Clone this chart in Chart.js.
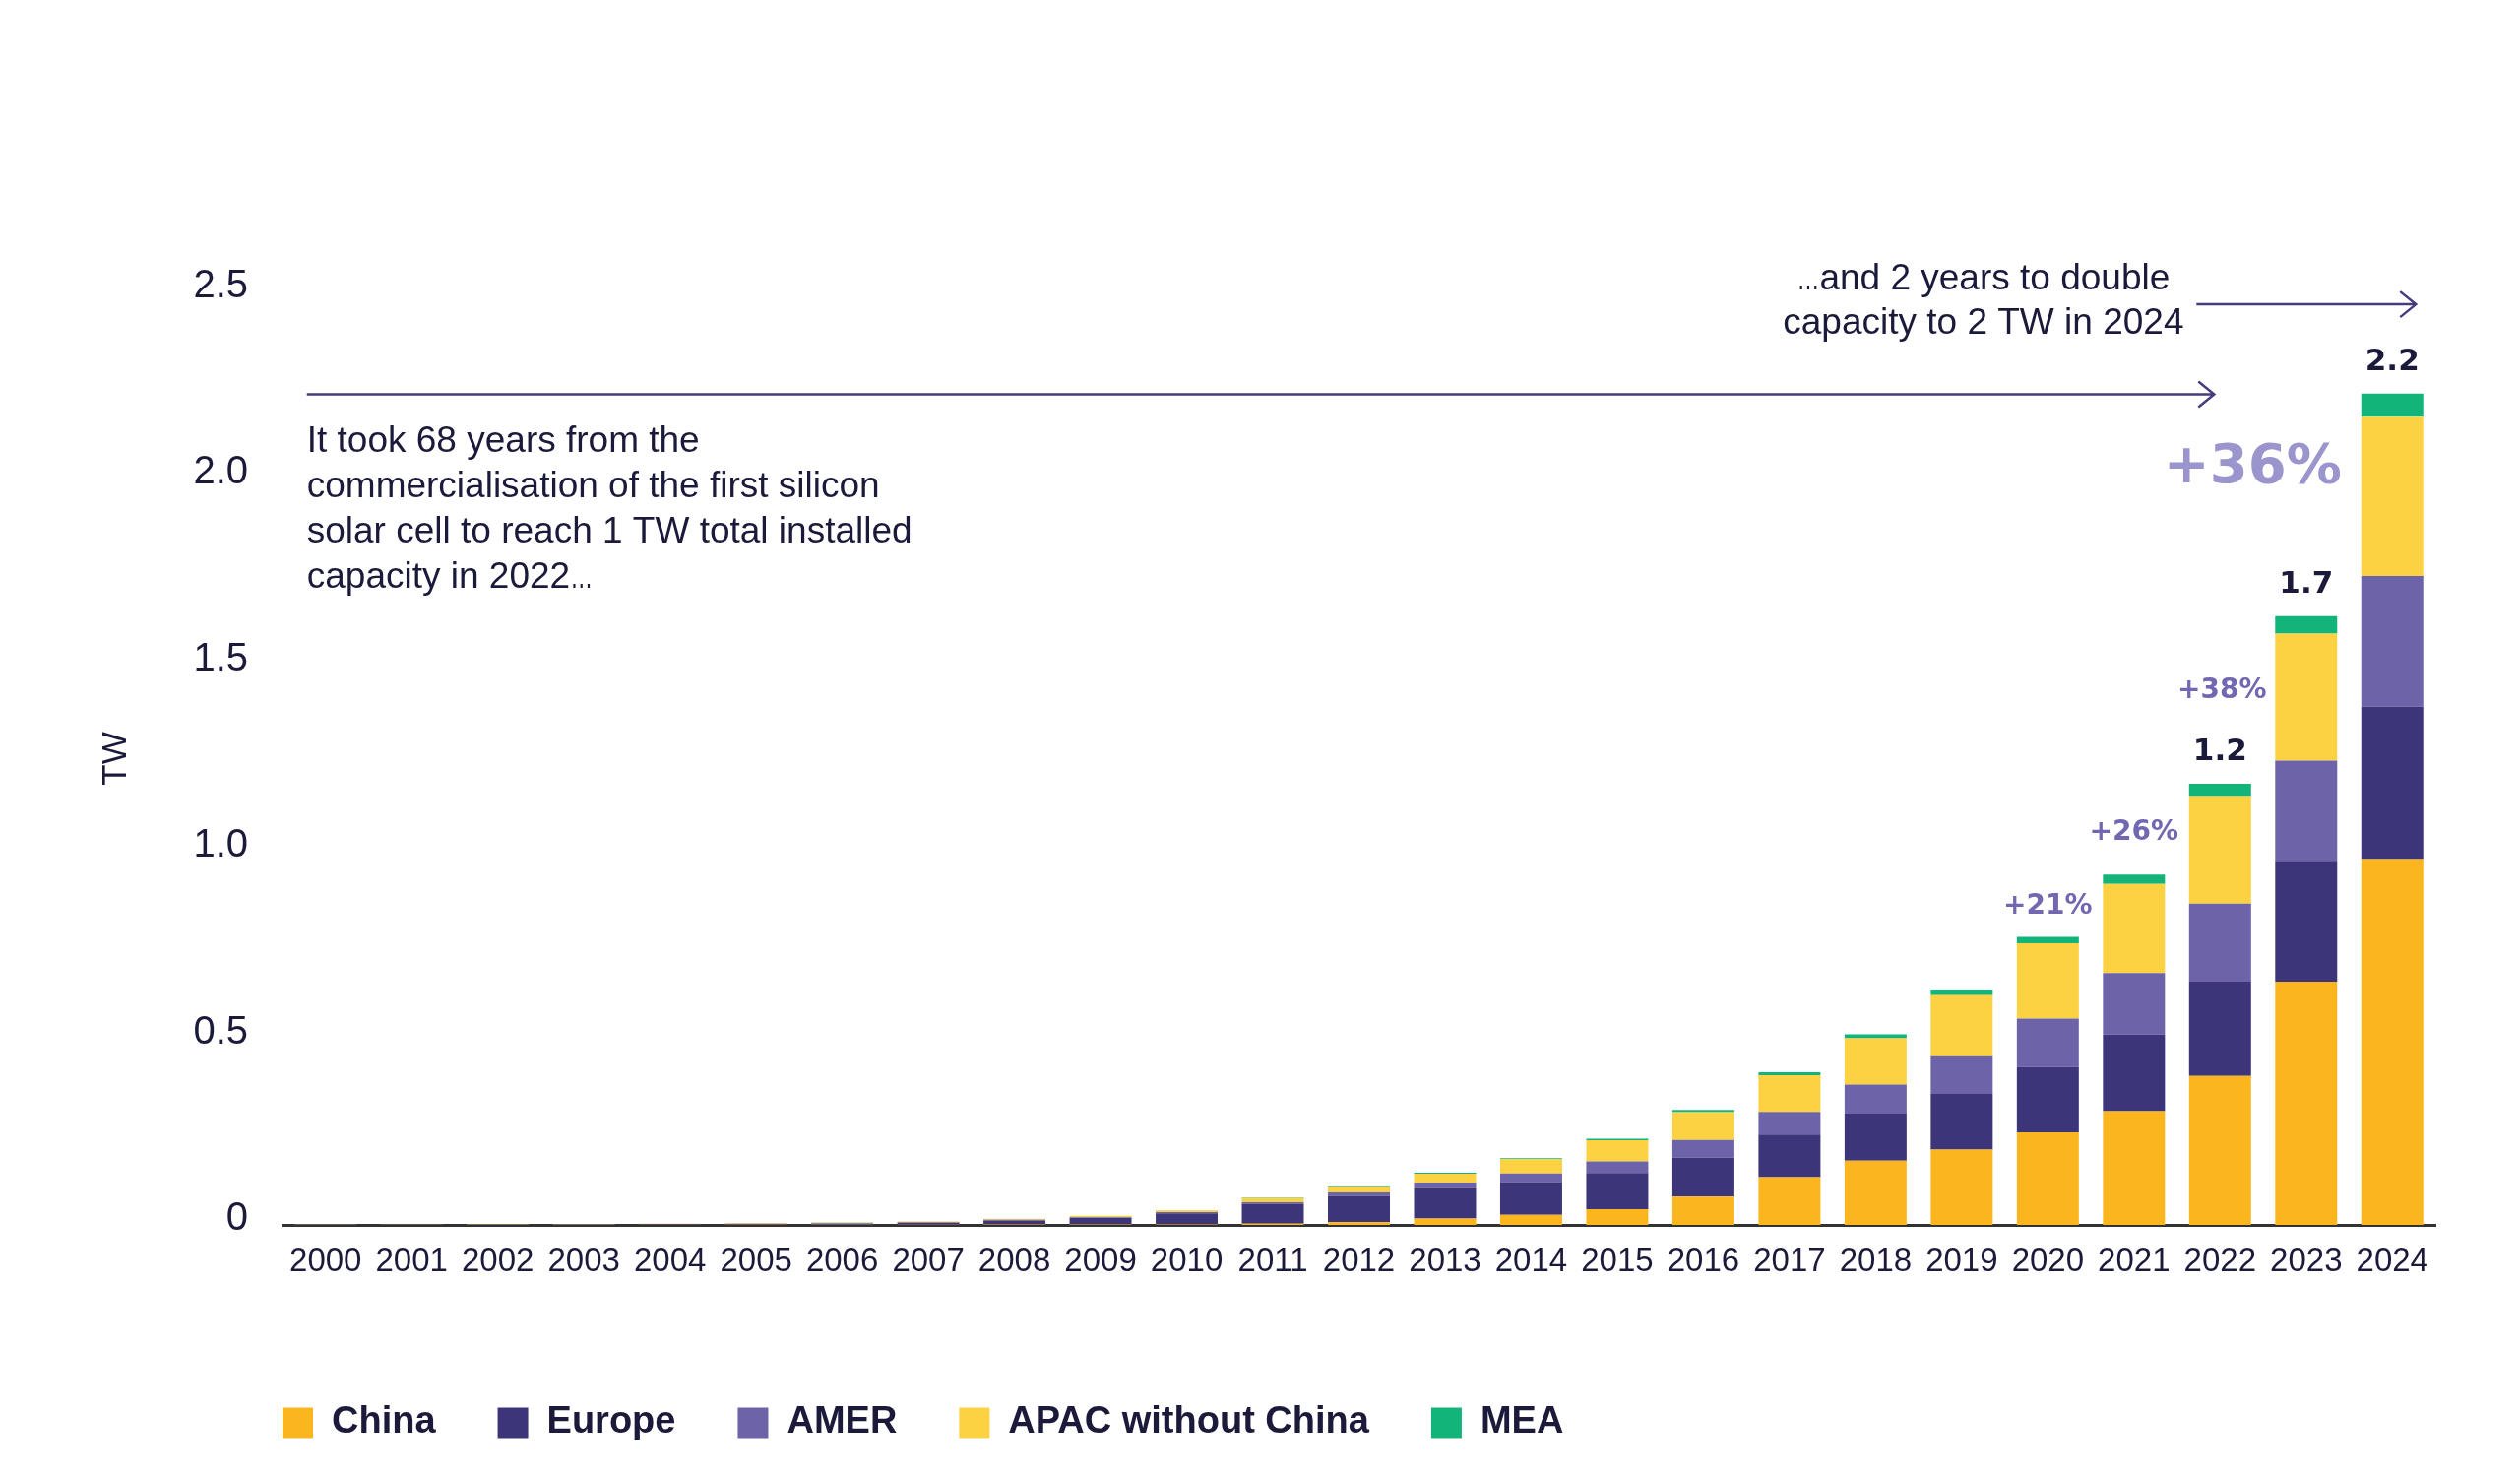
<!DOCTYPE html>
<html>
<head>
<meta charset="utf-8">
<script src="https://cdn.jsdelivr.net/npm/chart.js@4.4.1/dist/chart.umd.min.js"></script>
<style>
html,body{margin:0;padding:0;background:#ffffff;}
#wrap{width:2560px;height:1494px;position:relative;}
</style>
</head>
<body>
<div id="wrap"><canvas id="c"></canvas></div>
<script>
// ---------- data ----------
const years = ['2000','2001','2002','2003','2004','2005','2006','2007','2008','2009','2010','2011','2012','2013','2014','2015','2016','2017','2018','2019','2020','2021','2022','2023','2024'];
const china  = [0.0001,0.0001,0.0001,0.0002,0.0003,0.0004,0.0005,0.0008,0.001,0.0015,0.001,0.003,0.007,0.017,0.027,0.042,0.076,0.128,0.172,0.202,0.248,0.305,0.399,0.652,0.981];
const europe = [0.0002,0.0003,0.0004,0.0006,0.0012,0.002,0.003,0.005,0.011,0.017,0.030,0.053,0.071,0.082,0.088,0.097,0.104,0.114,0.126,0.149,0.175,0.205,0.253,0.324,0.408];
const amer   = [0.0002,0.0003,0.0004,0.0005,0.0006,0.0008,0.001,0.0013,0.0017,0.0022,0.003,0.005,0.009,0.013,0.023,0.031,0.048,0.061,0.078,0.101,0.130,0.165,0.209,0.269,0.351];
const apac   = [0.0005,0.0007,0.0009,0.0011,0.0013,0.0015,0.0017,0.002,0.0025,0.0035,0.005,0.011,0.014,0.025,0.038,0.057,0.074,0.098,0.124,0.164,0.202,0.239,0.289,0.340,0.427];
const mea    = [0,0,0,0,0,0,0.0001,0.0001,0.0002,0.0002,0.0005,0.001,0.002,0.003,0.003,0.004,0.006,0.008,0.011,0.015,0.017,0.025,0.033,0.047,0.062];
const seriesNames = ['China','Europe','AMER','APAC without China','MEA'];
const yTickValues = [0, 0.5, 1.0, 1.5, 2.0, 2.5];
const totalLabelYears = ['2022','2023','2024'];
const totalLabelTexts = ['1.2','1.7','2.2'];
const growthYears = ['2020','2021','2022','2024'];
const growthTexts = ['+21%','+26%','+38%','+36%'];
const noteLeft = ['It took 68 years from the','commercialisation of the first silicon','solar cell to reach 1 TW total installed','capacity in 2022\u2026'];
const noteRight = ['\u2026and 2 years to double','capacity to 2 TW in 2024'];

// ---------- styles ----------
const colors = ['#FBB61F','#3C3579','#6C63A9','#FDD242','#13B47A'];
const INK = '#1b1a3a';
const ARROW = '#433D7E';
const growthStyle = [
  {size:28, color:'#7268B2', dx:0,    dy:31},
  {size:28, color:'#7268B2', dx:0,    dy:43},
  {size:28, color:'#7268B2', dx:2,    dy:94},
  {size:56, color:'#9A95CC', dx:-142, dy:-76}
];

// draw a line of text whose ellipsis glyph is drawn narrower
function drawNote(ctx, text, x, y, align) {
  const parts = text.split('\u2026');
  const k0 = 0.62;
  const ellW = ctx.measureText('\u2026').width * k0;
  const total = parts.reduce((s, p) => s + ctx.measureText(p).width, 0) + ellW * (parts.length - 1);
  let cx = align === 'center' ? x - total / 2 : x;
  ctx.textAlign = 'left';
  parts.forEach((p, k) => {
    ctx.fillText(p, cx, y);
    cx += ctx.measureText(p).width;
    if (k < parts.length - 1) {
      ctx.save();
      ctx.translate(cx, y);
      ctx.scale(k0, 1);
      ctx.fillText('\u2026', 0, 0);
      ctx.restore();
      cx += ellW;
    }
  });
}

const annot = {
  id: 'annot',
  afterLayout(chart) {
    if (chart.legend) chart.legend.left = 224;
  },
  afterDatasetsDraw(chart) {
    const {ctx, scales} = chart;
    const xs = scales.x, ys = scales.y;
    const totals = years.map((_, i) => chart.data.datasets.reduce((s, d) => s + d.data[i], 0));
    ctx.save();
    ctx.textAlign = 'center';
    ctx.textBaseline = 'middle';
    // total labels
    ctx.font = 'bold 31px "DejaVu Sans"';
    ctx.fillStyle = INK;
    totalLabelYears.forEach((yr, k) => {
      const i = years.indexOf(yr);
      ctx.fillText(totalLabelTexts[k], xs.getPixelForValue(i), ys.getPixelForValue(totals[i]) - 32);
    });
    // growth labels
    growthYears.forEach((yr, k) => {
      const i = years.indexOf(yr);
      const st = growthStyle[k];
      ctx.font = 'bold ' + st.size + 'px "DejaVu Sans"';
      ctx.fillStyle = st.color;
      ctx.fillText(growthTexts[k], xs.getPixelForValue(i) + st.dx, ys.getPixelForValue(totals[i]) - st.dy);
    });
    // arrows
    ctx.strokeStyle = ARROW;
    ctx.lineWidth = 2.5;
    const arrow = (x1, x2, yy) => {
      ctx.beginPath();
      ctx.moveTo(x1, yy); ctx.lineTo(x2, yy);
      ctx.moveTo(x2 - 16, yy - 13); ctx.lineTo(x2, yy); ctx.lineTo(x2 - 16, yy + 13);
      ctx.stroke();
    };
    arrow(xs.getPixelForValue(0) - 19, xs.getPixelForValue(22) - 6, ys.getPixelForValue(2.227));
    arrow(xs.getPixelForValue(22) - 24, xs.getPixelForValue(24) + 24, ys.getPixelForValue(2.468));
    // notes
    ctx.font = '37px "Liberation Sans"';
    ctx.fillStyle = INK;
    const y0 = ys.getPixelForValue(2.098);
    noteLeft.forEach((t, k) => drawNote(ctx, t, xs.getPixelForValue(0) - 19, y0 + k * 45.7, 'left'));
    const y1 = ys.getPixelForValue(2.536);
    noteRight.forEach((t, k) => drawNote(ctx, t, xs.getPixelForValue(19) + 22, y1 + k * 45.7, 'center'));
    ctx.restore();
  }
};

const seriesData = [china, europe, amer, apac, mea];
new Chart(document.getElementById('c'), {
  type: 'bar',
  data: {
    labels: years,
    datasets: seriesNames.map((n, k) => ({
      label: n,
      data: seriesData[k],
      backgroundColor: colors[k],
      borderWidth: 0,
      categoryPercentage: 1.0,
      barPercentage: 0.72
    }))
  },
  options: {
    responsive: true,
    maintainAspectRatio: false,
    devicePixelRatio: 1,
    animation: false,
    layout: {padding: {top: 297, left: 0, right: 86, bottom: 20}},
    plugins: {
      tooltip: {enabled: false},
      legend: {
        position: 'bottom',
        align: 'start',
        labels: {
          boxWidth: 31,
          boxHeight: 31,
          padding: 63,
          color: INK,
          font: {family: '"Liberation Sans"', size: 38, weight: 'bold'}
        }
      }
    },
    scales: {
      x: {
        stacked: true,
        grid: {display: false, drawTicks: false},
        border: {display: true, color: '#333333', width: 3},
        ticks: {
          color: INK,
          autoSkip: false,
          maxRotation: 0,
          padding: 18,
          font: {family: '"Liberation Sans"', size: 33}
        },
        afterFit(s) { s.height = 119; }
      },
      y: {
        stacked: true,
        min: 0,
        max: 2.5,
        grid: {display: false, drawTicks: false},
        border: {display: false},
        afterBuildTicks(s) { s.ticks = yTickValues.map(v => ({value: v})); },
        ticks: {
          color: INK,
          padding: 35,
          labelOffset: -6,
          font: {family: '"Liberation Sans"', size: 40},
          callback: v => (v === 0 ? '0' : v.toFixed(1))
        },
        title: {
          display: true,
          text: 'TW',
          color: INK,
          padding: {top: 97, bottom: 0},
          font: {family: '"Liberation Sans"', size: 35}
        },
        afterFit(s) { s.width = 287; }
      }
    }
  },
  plugins: [annot]
});
</script>
</body>
</html>
